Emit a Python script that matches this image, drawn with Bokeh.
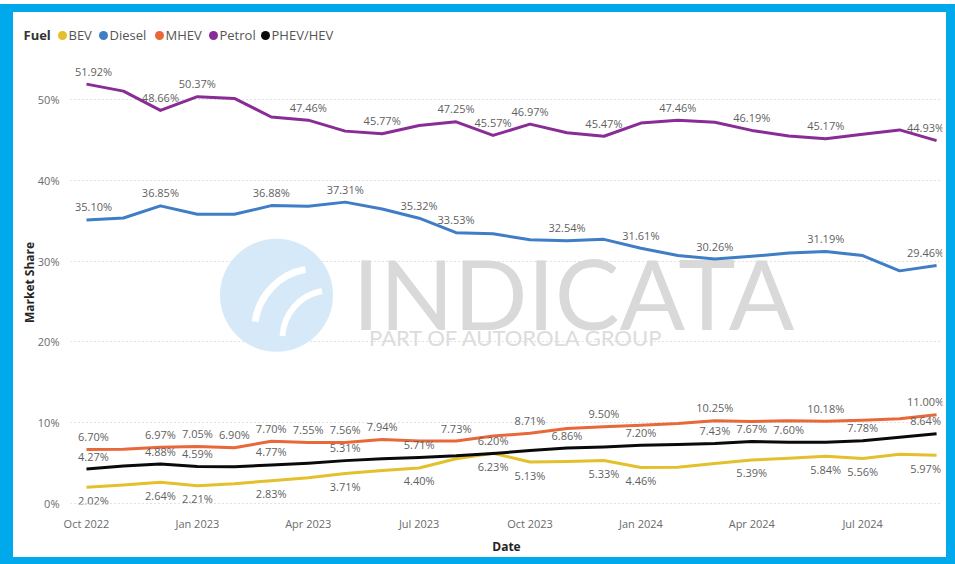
from bokeh.plotting import figure
from bokeh.models import FixedTicker, LabelSet, ColumnDataSource, Range1d, PrintfTickFormatter
from bokeh.layouts import column
from bokeh.embed import file_html
from bokeh.resources import INLINE
from bokeh.core.properties import value

# ---------------- data ----------------
months = ["Oct 2022", "Nov 2022", "Dec 2022", "Jan 2023", "Feb 2023", "Mar 2023",
          "Apr 2023", "May 2023", "Jun 2023", "Jul 2023", "Aug 2023", "Sep 2023",
          "Oct 2023", "Nov 2023", "Dec 2023", "Jan 2024", "Feb 2024", "Mar 2024",
          "Apr 2024", "May 2024", "Jun 2024", "Jul 2024", "Aug 2024", "Sep 2024"]
x_tick_labels = ["Oct 2022", "Jan 2023", "Apr 2023", "Jul 2023",
                 "Oct 2023", "Jan 2024", "Apr 2024", "Jul 2024"]
y_ticks = [0, 10, 20, 30, 40, 50]

fuels = ["BEV", "Diesel", "MHEV", "Petrol", "PHEV/HEV"]

bev = [2.02, 2.30, 2.64, 2.21, 2.45, 2.83, 3.20, 3.71, 4.10, 4.40, 5.55, 6.23,
       5.13, 5.20, 5.33, 4.46, 4.50, 4.95, 5.39, 5.60, 5.84, 5.56, 6.10, 5.97]
diesel = [35.10, 35.35, 36.85, 35.80, 35.80, 36.88, 36.80, 37.31, 36.45, 35.32, 33.53, 33.40,
          32.65, 32.54, 32.70, 31.61, 30.70, 30.26, 30.60, 31.00, 31.19, 30.70, 28.80, 29.46]
mhev = [6.70, 6.72, 6.97, 7.05, 6.90, 7.70, 7.55, 7.56, 7.94, 7.75, 7.73, 8.35,
        8.71, 9.30, 9.50, 9.70, 9.90, 10.25, 10.15, 10.25, 10.18, 10.30, 10.50, 11.00]
petrol = [51.92, 51.05, 48.66, 50.37, 50.15, 47.85, 47.46, 46.10, 45.77, 46.80, 47.25, 45.57,
          46.97, 45.90, 45.47, 47.10, 47.46, 47.20, 46.19, 45.50, 45.17, 45.70, 46.25, 44.93]
phev = [4.27, 4.65, 4.88, 4.59, 4.55, 4.77, 5.00, 5.31, 5.55, 5.71, 5.90, 6.20,
        6.55, 6.86, 7.00, 7.20, 7.30, 7.43, 7.67, 7.60, 7.60, 7.78, 8.20, 8.64]

# which points carry a data label
bev_lbl = [0, 2, 3, 5, 7, 9, 11, 12, 14, 15, 18, 20, 21, 23]
diesel_lbl = [0, 2, 5, 7, 9, 10, 13, 15, 17, 20, 23]
mhev_lbl = [0, 2, 3, 4, 5, 6, 7, 8, 10, 12, 14, 17, 20, 23]
petrol_lbl = [0, 2, 3, 6, 8, 10, 11, 12, 14, 16, 18, 20, 23]
phev_lbl = [0, 2, 3, 5, 7, 9, 11, 13, 15, 17, 18, 19, 21, 23]

colors = {"BEV": "#E3C02C", "Diesel": "#3F7DC6", "MHEV": "#E8683A",
          "Petrol": "#8A2C96", "PHEV/HEV": "#0A0A0A"}

FONT = "Open Sans"
x_idx = list(range(len(months)))


# page-pixel -> data helpers (layout only)
def px2x(px):
    return (px - 86) / 36.96


def py2y(py):
    return (513 - py) / 8.26


# ---------------- legend strip (own small figure, page y 12..52) ----------------
leg = figure(width=933, height=40, output_backend="svg", toolbar_location=None,
             x_range=Range1d(13, 946), y_range=Range1d(52, 12),
             min_border=0, background_fill_color="white", border_fill_color="white")
leg.axis.visible = False
leg.grid.visible = False
leg.outline_line_color = None
leg.frame_align = False
leg.margin = (8, 9, 0, 13)
leg.styles = {"background-color": "white"}
circ_x = [62, 103, 159, 213, 265]
leg_y = 34
leg.text(x=[23], y=[leg_y], text=["Fuel"], text_font=value(FONT), text_font_size="13px",
         text_font_style="bold", text_color="#333333", text_baseline="middle")
leg.scatter(x=circ_x, y=[leg_y + 1] * len(fuels), size=9, marker="circle",
            fill_color=[colors[f] for f in fuels], line_color=None)
leg.text(x=[c + 6 for c in circ_x], y=[leg_y] * len(fuels), text=fuels, text_font=value(FONT),
         text_font_size="13px", text_color="#555555", text_baseline="middle")

# ---------------- main chart (page y 52..557) ----------------
p = figure(width=933, height=505, output_backend="svg", toolbar_location=None,
           x_range=Range1d(px2x(70), px2x(942)), y_range=Range1d(py2y(514), py2y(60)),
           min_border_left=57, min_border_right=4, min_border_top=8, min_border_bottom=43,
           background_fill_color="white", border_fill_color="white")
p.frame_align = False
p.margin = (0, 9, 7, 13)
p.styles = {"background-color": "white"}
p.outline_line_color = None

# axes
p.xaxis.ticker = FixedTicker(ticks=[months.index(t) for t in x_tick_labels])
p.xaxis.major_label_overrides = {months.index(t): t for t in x_tick_labels}
p.yaxis.ticker = FixedTicker(ticks=y_ticks)
p.yaxis.formatter = PrintfTickFormatter(format="%d%%")
for ax in (p.xaxis[0], p.yaxis[0]):
    ax.axis_line_color = None
    ax.major_tick_line_color = None
    ax.minor_tick_line_color = None
    ax.major_label_text_font = FONT
    ax.major_label_text_font_size = "11px"
    ax.major_label_text_color = "#6b6b6b"
    ax.axis_label_text_font = FONT
    ax.axis_label_text_font_size = "12px"
    ax.axis_label_text_font_style = "bold"
    ax.axis_label_text_color = "#252423"
p.xaxis.axis_label = "Date"
p.yaxis.axis_label = "Market Share"
p.xaxis.major_label_standoff = 5
p.xaxis.axis_label_standoff = 4
p.yaxis.major_label_standoff = 5
p.yaxis.axis_label_standoff = -3
p.xgrid.grid_line_color = None
p.ygrid.grid_line_color = "#c4c4c4"
p.ygrid.grid_line_dash = "1 3"
p.ygrid.grid_line_width = 1

# watermark
p.scatter(x=[px2x(276)], y=[py2y(300)], size=113, marker="circle", fill_color="#d5e9f8", line_color=None)
p.arc(x=[px2x(316)], y=[py2y(336)], radius=[62], radius_units="screen", start_angle=[1.75], end_angle=[3.0],
      line_color="white", line_width=7)
p.arc(x=[px2x(330)], y=[py2y(344)], radius=[48], radius_units="screen", start_angle=[1.75], end_angle=[3.1],
      line_color="white", line_width=6)
p.text(x=[px2x(573)], y=[py2y(297)], text=["INDICATA"], text_font=value("Lato"), text_font_size="97px",
       text_color="#d9d9d9", text_align="center", text_baseline="middle")
p.text(x=[px2x(516)], y=[py2y(343)], text=["PART OF AUTOROLA GROUP"], text_font=value("Lato"),
       text_font_size="22px", text_color="#dcdcdc", text_align="center", text_baseline="middle")

series = [("BEV", bev, bev_lbl, 13), ("Diesel", diesel, diesel_lbl, -13),
          ("MHEV", mhev, mhev_lbl, -13), ("Petrol", petrol, petrol_lbl, -13),
          ("PHEV/HEV", phev, phev_lbl, -13)]

for name, vals, _, _ in series:
    p.line(x=x_idx, y=vals, line_color=colors[name], line_width=3, line_join="round")

last = len(months) - 1
for name, vals, lbl, off in series:
    src = ColumnDataSource(dict(x=[x_idx[i] for i in lbl], y=[vals[i] for i in lbl],
                                t=["%.2f%%" % vals[i] for i in lbl],
                                xo=[7 if i == 0 else (-11 if i == last else 0) for i in lbl]))
    p.add_layout(LabelSet(x="x", y="y", text="t", source=src, text_font=value(FONT),
                          text_font_size=value("11px"), text_color=value("#5f5f5f"),
                          text_align=value("center"), text_baseline=value("middle"),
                          x_offset="xo", y_offset=value(-off)))

layout = column(leg, p, spacing=0, styles={"background-color": "#00A9EC"}, margin=(4, 0, 0, 0))

open("out.html", "w").write(file_html(layout, INLINE))
